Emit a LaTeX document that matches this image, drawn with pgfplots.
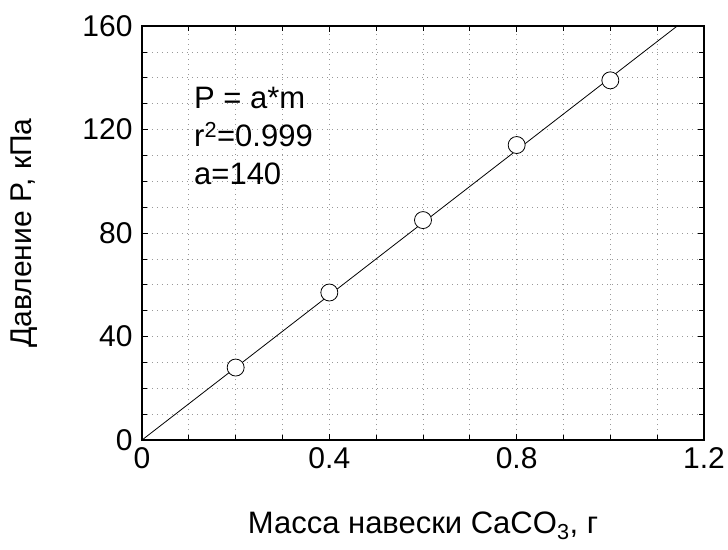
\documentclass[border=0pt]{standalone}
\usepackage{pgfplots}
\pgfplotsset{compat=1.18}
\usepackage{fontspec}
\setmainfont{Liberation Sans}
\newcommand{\tickfont}{\fontsize{30}{34}\selectfont}
\begin{document}
\begin{tikzpicture}
\path[use as bounding box] (-142pt,-109pt) rectangle (586pt,440pt);
\begin{axis}[
  at={(0pt,0pt)}, anchor=south west,
  scale only axis,
  width=562pt, height=414pt,
  xmin=0, xmax=1.2, ymin=0, ymax=160,
  xtick={0,0.4,0.8,1.2}, ytick={0,40,80,120,160},
  xticklabels={0,0.4,0.8,1.2},
  yticklabels={0,40,80,120,160},
  minor x tick num=3, minor y tick num=3,
  grid=both,
  major grid style={gray!80, line width=0.7pt, dash pattern=on 1pt off 4pt},
  minor grid style={gray!80, line width=0.7pt, dash pattern=on 1pt off 4pt},
  tick align=inside,
  major tick length=6pt, minor tick length=5pt,
  tick style={black, line width=0.7pt},
  axis line style={line width=1.2pt},
  /pgf/number format/assume math mode=true,
  xticklabel style={font=\tickfont, anchor=north, yshift=-4pt},
  yticklabel style={font=\tickfont, anchor=east, xshift=-6pt},
  xlabel={Масса навески CaCO\textsubscript{3}, г},
  ylabel={Давление P, кПа},
  xlabel style={font=\fontsize{31}{35}\selectfont, at={(axis description cs:0.5,0)}, anchor=base, xshift=0pt, yshift=-93pt},
  ylabel style={font=\fontsize{30}{34}\selectfont, at={(axis description cs:0,0.5)}, anchor=base, yshift=110pt},
  clip=true,
]
\addplot[black, line width=0.8pt, no marks] coordinates {(0,0) (1.142857,160)};
\addplot[only marks, mark=*, mark size=8.5pt, mark options={fill=white, draw=black, line width=0.8pt}]
  coordinates {(0.2,28) (0.4,57) (0.6,85) (0.8,114) (1.0,139)};
\node[anchor=north west, align=left, font=\fontsize{31}{38}\selectfont, inner sep=0pt]
  at (axis cs:0.111,136.5) {P = a*m\\r\textsuperscript{2}=0.999\\a=140};
\end{axis}
\end{tikzpicture}
\end{document}
